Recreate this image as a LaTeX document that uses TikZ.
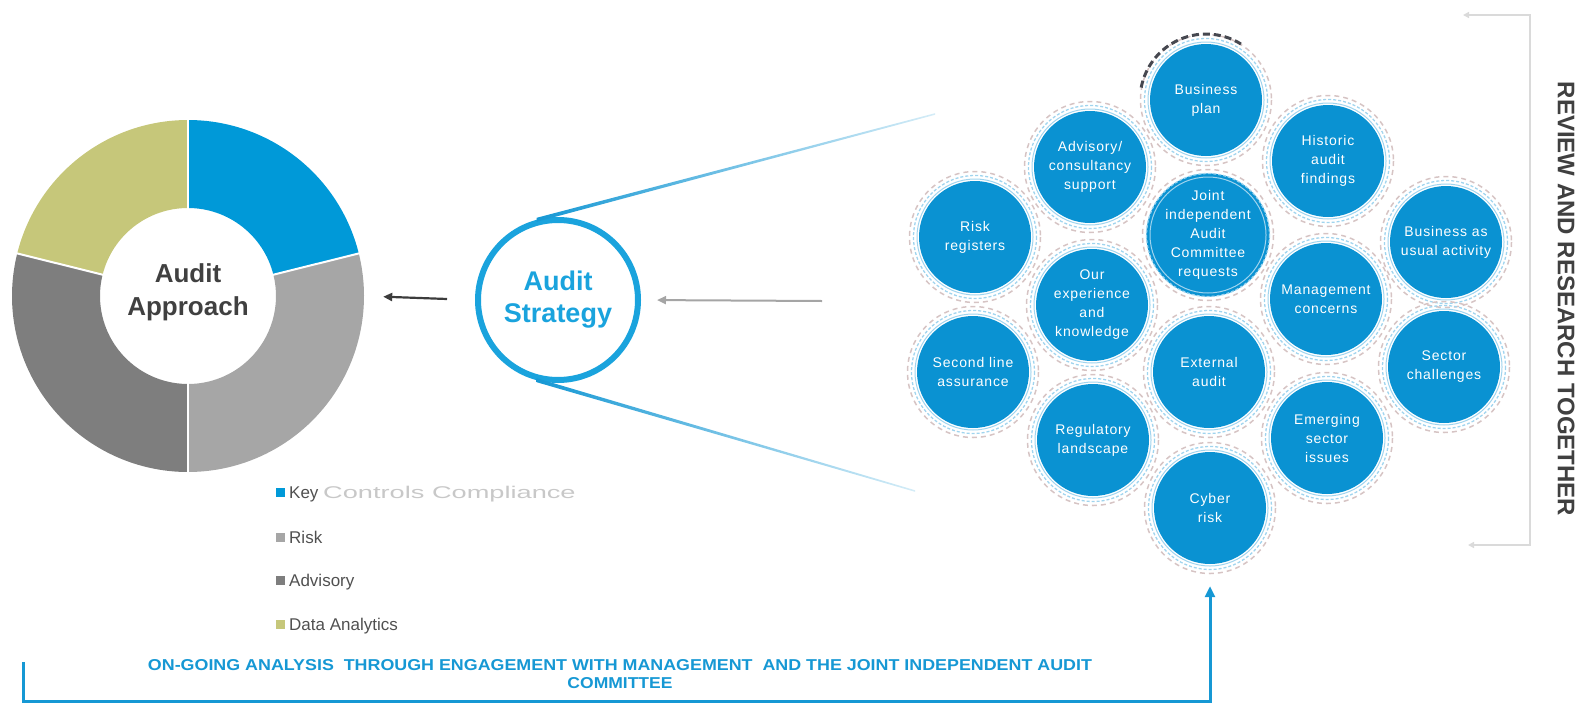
\documentclass[tikz,border=0pt]{standalone}
\usepackage{fontspec}
\setmainfont{Liberation Sans}
\newfontfamily\bubblefont[LetterSpace=6]{Liberation Sans}
\usetikzlibrary{calc,arrows.meta}

\definecolor{segblue}{RGB}{0,153,216}
\definecolor{seglight}{RGB}{166,166,166}
\definecolor{segdark}{RGB}{126,126,126}
\definecolor{segolive}{RGB}{198,199,122}
\definecolor{bubblefill}{RGB}{10,146,210}
\definecolor{ringblue}{RGB}{160,212,238}
\definecolor{ringgrey}{RGB}{214,196,196}
\definecolor{textgrey}{RGB}{64,64,64}
\definecolor{legendgrey}{RGB}{80,80,80}
\definecolor{fadedgrey}{RGB}{200,200,200}
\definecolor{stratblue}{RGB}{26,163,221}
\definecolor{flowblue}{RGB}{22,152,212}
\definecolor{arrowdark}{RGB}{60,60,60}
\definecolor{arrowlight}{RGB}{165,165,165}
\definecolor{bracketgrey}{RGB}{218,218,218}
\definecolor{arcdark}{RGB}{70,72,80}

% one ring of the donut chart, between two angles (degrees, counter-clockwise)
\newcommand{\donutseg}[3]{%
  \fill[#1] ($(dc)+({-#2}:176)$) arc[start angle={-#2}, end angle={-#3}, radius=176]
    -- ($(dc)+({-#3}:88)$) arc[start angle={-#3}, end angle={-#2}, radius=88] -- cycle;}

\begin{document}
\begin{tikzpicture}[x=1pt,y=-1pt,
  bubblenode/.style={circle, fill=bubblefill, minimum size=112pt, inner sep=0pt,
    align=center, text=white, font=\bubblefont\fontsize{14}{19}\selectfont},
  legsq/.style={rectangle, minimum size=9pt, inner sep=0pt},
  legtext/.style={anchor=base west, inner sep=0pt, text=legendgrey,
    font=\fontsize{17}{20}\selectfont},
  innerring/.style={ringblue, line width=1pt},
  chainring/.style={ringblue, line width=1.3pt, dash pattern=on 3pt off 2pt},
  outerring/.style={ringgrey, line width=1.5pt, dash pattern=on 5pt off 4pt},
]
\useasboundingbox (0,0) rectangle (1580,707);

% ---------- donut chart ----------
\coordinate (dc) at (188,296);
\donutseg{segblue}{14}{90}
\donutseg{segolive}{90}{166}
\donutseg{segdark}{166}{270}
\donutseg{seglight}{270}{374}
\foreach \a in {14,90,166,270}
  \draw[white, line width=2pt] ($(dc)+({-\a}:87)$) -- ($(dc)+({-\a}:177)$);
\node[circle, minimum size=352pt, inner sep=0pt] (donut) at (dc) {};
\node[align=center, text=textgrey, font=\bfseries\fontsize{26}{33}\selectfont]
  (approach) at (188,292) {Audit\\Approach};

% ---------- legend ----------
\node[legsq, fill=segblue]  (sqkey)  at (280.5,492) {};
\node[legsq, fill=seglight] (sqrisk) at (280.5,537) {};
\node[legsq, fill=segdark]  (sqadv)  at (280.5,580) {};
\node[legsq, fill=segolive] (sqdata) at (280.5,624) {};
\node[legtext] (lkey)  at (289,498) {Key \textcolor{fadedgrey}{\scalebox{1.6}[1]{Controls Compliance}}};
\node[legtext] (lrisk) at (289,543) {Risk};
\node[legtext] (ladv)  at (289,586) {Advisory};
\node[legtext] (ldata) at (289,630) {Data Analytics};

% ---------- audit strategy ----------
\node[circle, draw=stratblue, line width=6pt, minimum size=160pt, inner sep=0pt,
  align=center, text=stratblue, font=\bfseries\fontsize{27}{32}\selectfont]
  (strategy) at (558,300) {Audit\\Strategy};

\coordinate (ftop) at (935,114);
\coordinate (fbot) at (915,491);
\shade[left color=flowblue, right color=flowblue!18]
  ($(strategy.105)+(0,-2)$) -- ($(ftop)+(0,-0.8)$) -- ($(ftop)+(0,0.8)$)
  -- ($(strategy.105)+(0,2)$) -- cycle;
\shade[left color=flowblue, right color=flowblue!18]
  ($(strategy.-105)+(0,-2)$) -- ($(fbot)+(0,-0.8)$) -- ($(fbot)+(0,0.8)$)
  -- ($(strategy.-105)+(0,2)$) -- cycle;

\draw[arrowdark, line width=2.2pt, -{Triangle[length=9pt,width=8pt]},
  shorten <=28pt, shorten >=19pt] (strategy.west) -- (donut.east);
\coordinate (clusterin) at (822,301);
\draw[arrowlight, line width=2pt, -{Triangle[length=9pt,width=8pt]},
  shorten >=16pt] (clusterin) -- (strategy.east);

% ---------- cluster of inputs ----------
\node[bubblenode] (risk)       at (975,237)  {Risk\\registers};
\node[bubblenode] (second)     at (973,372)  {Second line\\assurance};
\node[bubblenode] (advisory)   at (1090,167) {Advisory/\\consultancy\\support};
\node[bubblenode] (experience) at (1092,305) {Our\\experience\\and\\knowledge};
\node[bubblenode] (regulatory) at (1093,440) {Regulatory\\landscape};
\node[bubblenode] (business)   at (1206,100) {Business\\plan};
\node[bubblenode] (joint)      at (1208,235) {Joint\\independent\\Audit\\Committee\\requests};
\node[bubblenode] (external)   at (1209,372) {External\\audit};
\node[bubblenode] (cyber)      at (1210,508) {Cyber\\risk};
\node[bubblenode] (historic)   at (1328,161) {Historic\\audit\\findings};
\node[bubblenode] (management) at (1326,299) {Management\\concerns};
\node[bubblenode] (emerging)   at (1327,438) {Emerging\\sector\\issues};
\node[bubblenode] (bau)        at (1446,242) {Business as\\usual activity};
\node[bubblenode] (sector)     at (1444,367) {Sector\\challenges};

\foreach \n in {risk,second,advisory,experience,regulatory,business,joint,
                external,cyber,historic,management,emerging,bau,sector} {
  \draw[innerring] (\n.center) circle[radius=58];
  \draw[chainring] (\n.center) circle[radius=61.5];
  \draw[outerring] (\n.center) circle[radius=65.5];
}
\draw[arcdark, line width=3pt, dash pattern=on 7pt off 4pt]
  ($(business.center)+(-58:66)$) arc[start angle=-58, end angle=-171, radius=66];

% ---------- review bracket ----------
\coordinate (brtop) at (1463,15);
\coordinate (brtr)  at (1530,15);
\coordinate (brbr)  at (1530,545);
\coordinate (brbot) at (1468,545);
\draw[bracketgrey, line width=1.5pt,
  {Triangle[length=6pt,width=6pt]}-{Triangle[length=6pt,width=6pt]}]
  (brtop) -- (brtr) -- (brbr) -- (brbot);
\node[rotate=-90, text=textgrey, font=\bfseries\fontsize{24}{28}\selectfont]
  (review) at (1566,299) {REVIEW AND RESEARCH TOGETHER};

% ---------- on-going analysis loop ----------
\coordinate (fbstart) at (23,662);
\draw[flowblue, line width=3pt, -{Triangle[length=11pt,width=10pt]}, shorten >=22pt]
  (fbstart) |- ($(cyber.south)+(0,137)$) -- (cyber.south);
\node[align=center, text=flowblue, inner sep=0pt,
  font=\bfseries\fontsize{15}{18}\selectfont] (ongoing) at (620,674.5)
  {\resizebox{944pt}{11pt}{ON-GOING ANALYSIS\ \ THROUGH ENGAGEMENT WITH MANAGEMENT\ \ AND THE JOINT INDEPENDENT AUDIT}\\
   \resizebox{105pt}{11pt}{COMMITTEE}};
\end{tikzpicture}
\end{document}
